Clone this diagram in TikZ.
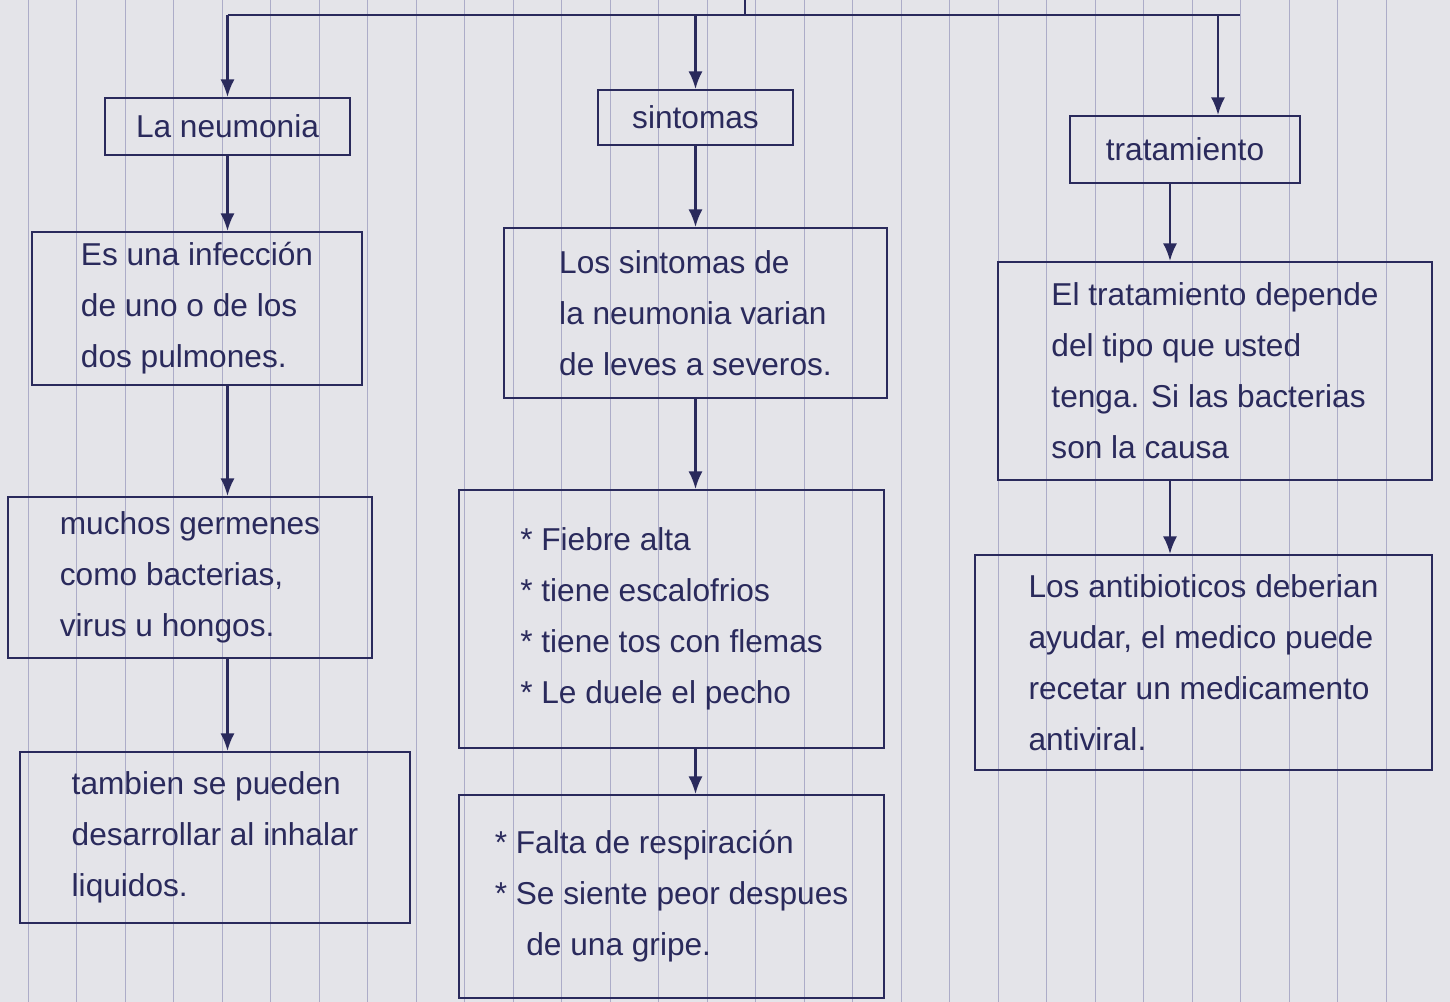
\documentclass[tikz,border=0pt]{standalone}
\usepackage{fontspec}
\setmainfont{Liberation Sans}
\usetikzlibrary{arrows.meta,positioning}
\definecolor{ink}{RGB}{42,42,92}
\definecolor{paper}{RGB}{228,228,233}
\definecolor{rule}{RGB}{172,172,200}

\begin{document}
\begin{tikzpicture}[->,>={Latex[length=10pt,width=8pt]},line width=1.2pt,ink,node distance=4cm,
    font=\fontsize{18}{29}\selectfont]
  \tikzstyle{head}=[draw,rectangle,inner sep=2pt]
  \tikzstyle{note}=[draw,rectangle,align=left,inner sep=3pt]

  % hoja rayada
  \useasboundingbox (0,0) rectangle (29,-20.04);
  \fill[paper] (0,0) rectangle (29,-20.04);
  \foreach \i in {0,...,28}
    \draw[-,rule,line width=0.5pt] (0.56+0.97*\i,0) -- (0.56+0.97*\i,-20.04);

  % titulos
  \node[head,minimum width=4.9cm,minimum height=1.14cm] (neu) at (4.55,-2.53) {La neumonia};
  \node[head,minimum width=3.9cm,minimum height=1.1cm]  (sin) at (13.91,-2.35) {sintomas};
  \node[head,minimum width=4.6cm,minimum height=1.34cm] (tra) at (23.7,-2.99) {tratamiento};

  % columna 1
  \node[note,minimum width=6.6cm,minimum height=3.06cm] (A1) [below of=neu,node distance=3.64cm,xshift=-0.61cm]
    {Es una infección\\de uno o de los\\dos pulmones.};
  \node[note,minimum width=7.28cm,minimum height=3.22cm] (A2) [below of=A1,node distance=5.38cm,xshift=-0.14cm]
    {muchos germenes\\como bacterias,\\virus u hongos.};
  \node[note,minimum width=7.8cm,minimum height=3.42cm] (A3) [below of=A2,node distance=5.2cm,xshift=0.5cm]
    {tambien se pueden\\desarrollar al inhalar\\liquidos.};

  % columna 2
  \node[note,minimum width=7.66cm,minimum height=3.4cm] (B1) [below of=sin,node distance=3.91cm]
    {Los sintomas de\\la neumonia varian\\de leves a severos.};
  \node[note,minimum width=8.5cm,minimum height=5.16cm] (B2) [below of=B1,node distance=6.12cm,xshift=-0.48cm]
    {* Fiebre alta\\* tiene escalofrios\\* tiene tos con flemas\\* Le duele el pecho};
  \node[note,minimum width=8.5cm,minimum height=4.06cm] (B3) [below of=B2,node distance=5.55cm]
    {* Falta de respiración\\* Se siente peor despues\\\quad de una gripe.};

  % columna 3
  \node[note,minimum width=8.68cm,minimum height=4.36cm] (C1) [below of=tra,node distance=4.43cm,xshift=0.6cm]
    {El tratamiento depende\\del tipo que usted\\tenga. Si las bacterias\\son la causa};
  \node[note,minimum width=9.14cm,minimum height=4.3cm] (C2) [below of=C1,node distance=5.83cm,xshift=-0.23cm]
    {Los antibioticos deberian\\ayudar, el medico puede\\recetar un medicamento\\antiviral.};

  % ramas de arriba
  \coordinate (trunk) at (14.9,0);
  \coordinate (barL) at (4.55,-0.3);
  \coordinate (barR) at (24.8,-0.3);
  \draw[-] (trunk) -- (trunk |- barL);
  \draw[-] (barL) -- (barR);
  \draw (barL) -- (neu);
  \draw (sin |- barL) -- (sin);
  \draw ([xshift=0.66cm]tra.north |- barL) -- ([xshift=0.66cm]tra.north);

  % flechas
  \draw (neu) -- (neu |- A1.north);
  \draw (neu |- A1.south) -- (neu |- A2.north);
  \draw (neu |- A2.south) -- (neu |- A3.north);
  \draw (sin) -- (sin |- B1.north);
  \draw (sin |- B1.south) -- (sin |- B2.north);
  \draw (sin |- B2.south) -- (sin |- B3.north);
  \draw ([xshift=-0.3cm]tra.south) -- ([xshift=-0.3cm]tra.south |- C1.north);
  \draw ([xshift=-0.3cm]tra.south |- C1.south) -- ([xshift=-0.3cm]tra.south |- C2.north);
\end{tikzpicture}
\end{document}
